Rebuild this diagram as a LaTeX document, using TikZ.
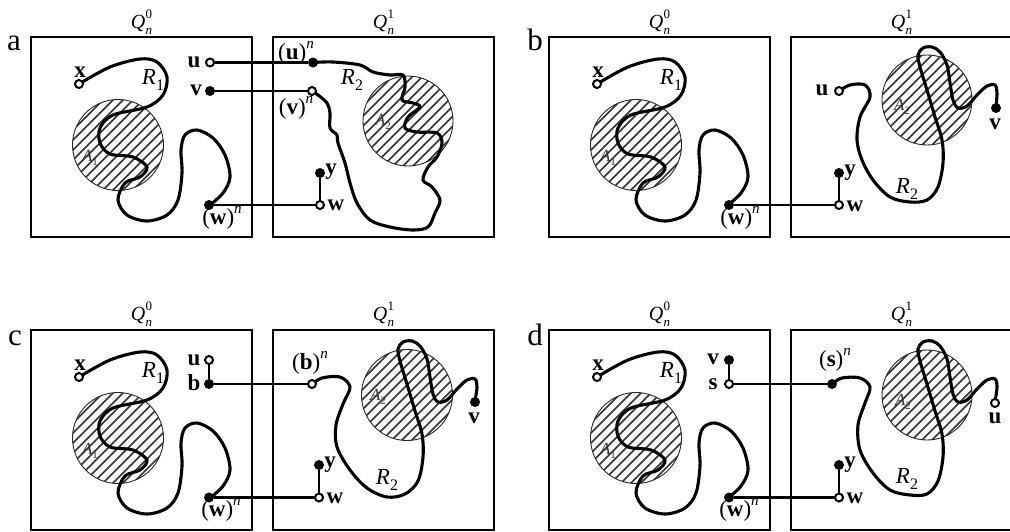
\documentclass[tikz,border=0pt]{standalone}
\usepackage{fontspec}
\setmainfont{Liberation Serif}
\newcommand\Qn[1]{\textit{Q}\kern0.3pt\rlap{\raisebox{0.5em}{\fontsize{13}{13}\selectfont #1}}\raisebox{-0.3em}{\fontsize{13}{13}\selectfont\textit{n}}}
\newcommand\Vn[1]{(\textbf{#1})\raisebox{0.5em}{\fontsize{15}{15}\selectfont\textit{n}}}
\newcommand\Rsub[1]{\textit{R}\raisebox{-0.25em}{\fontsize{16}{16}\selectfont #1}}
\newcommand\Asub[1]{\textit{A}\raisebox{-0.25em}{\fontsize{11}{11}\selectfont #1}}
\tikzset{
 boxq/.style={draw, line width=1.6pt},
 rte/.style={line width=3.1pt, line cap=round, line join=round},
 conn/.style={line width=2.9pt},
 fdot/.style={circle, fill=black, inner sep=0pt, minimum size=10pt},
 odot/.style={circle, draw=black, line width=2pt, fill=white, inner sep=0pt, minimum size=8pt},
 vlab/.style={inner sep=0pt, font=\fontsize{23}{26}\selectfont\bfseries},
 nlab/.style={inner sep=0pt, font=\fontsize{23}{26}\selectfont},
 alab/.style={inner sep=0pt, text=black!80, font=\fontsize{17}{20}\selectfont},
 qlab/.style={inner sep=0pt, font=\fontsize{20}{23}\selectfont},
 plab/.style={inner sep=0pt, anchor=base, font=\fontsize{31}{33}\selectfont},
 hatch/.style={line width=1.7pt, draw=black!80},
 disk/.style={draw=black!85, line width=0.9pt},
}
\newcommand\hdisk[3]{%
 \begin{scope}
 \clip (#1,#2) circle[radius=#3pt];
 \foreach \t in {0,...,16} {\draw[hatch] (#1-80+10*\t-70,#2+70) -- (#1-80+10*\t+70,#2-70);}
 \end{scope}
 \draw[disk] (#1,#2) circle[radius=#3pt];}
\newcommand\leftcurve{%
 \hdisk{87}{108}{45.5}
 \draw[rte] plot[smooth,tension=0.55] coordinates {(48,47) (79,30) (109,22) (126,25) (136,40) (132,58) (116,70) (82,78) (69,91) (69,106) (79,117) (102,120) (116,130) (109,140) (94,146) (87,163) (96,178) (116,184) (136,178) (147,163) (151,136) (150,113) (154,98) (166,93) (182,101) (194,118) (199,140) (192,156) (179,168)};
 \node[vlab] at (49,35) {x};
 \node[nlab] at (122,43) {\Rsub{1}};
 \node[alab] at (59,121) {\Asub{1}};}
\begin{document}
\begin{tikzpicture}[x=1pt,y=-1pt]
\useasboundingbox (0,0) rectangle (1010,531);
% panel letters and titles
\node[plab] (la) at (14,50) {a};
\node[plab] (lb) at (535,50) {b};
\node[plab] (lc) at (15,345) {c};
\node[plab] (ld) at (535,345) {d};
\node[qlab] (qa0) at (141.5,22) {\Qn{0}};
\node[qlab] (qa1) at (383.5,22) {\Qn{1}};
\node[qlab] (qb0) at (659.5,22) {\Qn{0}};
\node[qlab] (qb1) at (901.5,22) {\Qn{1}};
\node[qlab] (qc0) at (141.5,314) {\Qn{0}};
\node[qlab] (qc1) at (383.5,314) {\Qn{1}};
\node[qlab] (qd0) at (659.5,314) {\Qn{0}};
\node[qlab] (qd1) at (901.5,314) {\Qn{1}};
% ================= panel a
\begin{scope}[shift={(31,37)}]
 \draw[boxq] (0,0) rectangle (221,200);
 \leftcurve
 \node[odot] (ax) at (48,47) {};
 \node[odot] (au) at (179,25.5) {};
 \node[vlab] at (163,25) {u};
 \node[fdot] (av) at (179,54) {};
 \node[vlab] at (165,53) {v};
 \node[fdot] (awn) at (178,168) {};
 \node[nlab] at (191,181) {\Vn{w}};
\end{scope}
\begin{scope}[shift={(273,37)}]
 \draw[boxq] (0,0) rectangle (221,200);
 \hdisk{135}{84}{45}
 \draw[rte] plot[smooth,tension=0.55] coordinates {(40,25.5) (60,25) (87,28) (100,35) (117,38) (130,38) (132,50) (129,63) (140,66) (147,70) (135,80) (132,91) (144,95) (164,96) (169,106) (164,120) (155,130) (150,143) (159,150) (167,163) (162,176) (155,190) (140,193) (117,190) (97,183) (84,166) (77,146) (72,126) (65,106) (64,98) (57,91) (57,76) (54,66) (45,58) (39,54)};
 \node[fdot] (aun) at (40,25.5) {};
 \node[nlab] at (23,16) {\Vn{u}};
 \node[odot] (avn) at (39,54) {};
 \node[nlab] at (23,71) {\Vn{v}};
 \node[nlab] at (79,43) {\Rsub{2}};
 \node[alab] at (110,85) {\Asub{2}};
 \node[fdot] (ay) at (47,136) {};
 \node[vlab] at (58,135) {y};
 \node[odot] (aw) at (47,168) {};
 \node[vlab] at (63,168) {w};
\end{scope}
\draw[conn] (au) -- (aun);
\draw[conn] (av) -- (avn);
\draw[conn] (awn) -- (aw);
\draw[conn] (ay) -- (aw);
% ================= panel b
\begin{scope}[shift={(549,37)}]
 \draw[boxq] (0,0) rectangle (221,200);
 \leftcurve
 \node[odot] (bx) at (48,47) {};
 \node[fdot] (bwn) at (180,168) {};
 \node[nlab] at (191,181) {\Vn{w}};
\end{scope}
\begin{scope}[shift={(791,37)}]
 \draw[boxq] (0,0) rectangle (221,200);
 \hdisk{136}{63}{45}
 \draw[rte] plot[smooth,tension=0.55] coordinates {(48,54) (59,48) (74,48) (79,60) (69,80) (66,103) (71,123) (82,143) (99,160) (119,165) (136,163) (147,150) (152,126) (151,103) (144,80) (136,53) (129,30) (127,18) (132,11) (141,10) (149,15) (156,28) (159,46) (162,63) (167,71) (176,69) (186,58) (196,49) (204,48) (206,56) (205,70)};
 \node[odot] (bu) at (48,54) {};
 \node[vlab] at (31,53) {u};
 \node[fdot] (bv) at (205,71) {};
 \node[vlab] at (204,87) {v};
 \node[alab] at (111,70) {\Asub{2}};
 \node[nlab] at (116,152) {\Rsub{2}};
 \node[fdot] (by) at (48,136) {};
 \node[vlab] at (59,136) {y};
 \node[odot] (bw) at (48,168) {};
 \node[vlab] at (64,169) {w};
\end{scope}
\draw[conn] (bwn) -- (bw);
\draw[conn] (by) -- (bw);
% ================= panel c
\begin{scope}[shift={(31,330)}]
 \draw[boxq] (0,0) rectangle (221,200);
 \leftcurve
 \node[odot] (cx) at (48,47) {};
 \node[odot] (cu) at (178,30) {};
 \node[vlab] at (163,30) {u};
 \node[fdot] (cb) at (178,54) {};
 \node[vlab] at (163,53) {b};
 \node[fdot] (cwn) at (178,167.5) {};
 \node[nlab] at (190,180) {\Vn{w}};
\end{scope}
\begin{scope}[shift={(273,330)}]
 \draw[boxq] (0,0) rectangle (221,200);
 \hdisk{134}{65}{45.5}
 \draw[rte] plot[smooth,tension=0.55] coordinates {(39,54) (49,48) (67,47) (77,57) (70,74) (63,95) (64,117) (77,140) (94,158) (114,167) (132,164) (145,151) (150,127) (149,104) (142,81) (134,54) (127,31) (125,19) (130,12) (139,11) (147,16) (154,29) (157,47) (160,64) (165,72) (174,70) (184,59) (194,50) (202,49) (204,57) (202,71)};
 \node[odot] (cbn) at (39,54) {};
 \node[nlab] at (37,33) {\Vn{b}};
 \node[fdot] (cv) at (202,72) {};
 \node[vlab] at (201,88) {v};
 \node[alab] at (105,67) {\Asub{2}};
 \node[nlab] at (114,150) {\Rsub{2}};
 \node[fdot] (cy) at (46,135) {};
 \node[vlab] at (57,135) {y};
 \node[odot] (cw) at (46,167.5) {};
 \node[vlab] at (62,168) {w};
\end{scope}
\draw[conn] (cu) -- (cb);
\draw[conn] (cb) -- (cbn);
\draw[conn] (cwn) -- (cw);
\draw[conn] (cy) -- (cw);
% ================= panel d
\begin{scope}[shift={(549,330)}]
 \draw[boxq] (0,0) rectangle (221,200);
 \leftcurve
 \node[odot] (dx) at (48,47) {};
 \node[fdot] (dv) at (180,30) {};
 \node[vlab] at (164,29) {v};
 \node[odot] (ds) at (180,54) {};
 \node[vlab] at (164,54) {s};
 \node[fdot] (dwn) at (180,167.5) {};
 \node[nlab] at (190,180) {\Vn{w}};
\end{scope}
\begin{scope}[shift={(791,330)}]
 \draw[boxq] (0,0) rectangle (221,200);
 \hdisk{136}{65}{45}
 \draw[rte] plot[smooth,tension=0.55] coordinates {(41,54) (51,48) (69,48) (79,57) (74,73) (67,95) (69,120) (82,143) (99,160) (119,165) (136,164) (147,151) (152,127) (151,104) (144,81) (136,54) (129,31) (127,19) (132,12) (141,11) (149,16) (156,29) (159,47) (162,64) (167,72) (176,70) (186,59) (196,50) (204,49) (206,57) (204,72)};
 \node[fdot] (dsn) at (41,54) {};
 \node[nlab] at (44,30) {\Vn{s}};
 \node[odot] (du) at (204,73) {};
 \node[vlab] at (204,88) {u};
 \node[alab] at (112,72) {\Asub{2}};
 \node[nlab] at (116,149) {\Rsub{2}};
 \node[fdot] (dy) at (48,135) {};
 \node[vlab] at (59,135) {y};
 \node[odot] (dw) at (48,167.5) {};
 \node[vlab] at (64,168) {w};
\end{scope}
\draw[conn] (dv) -- (ds);
\draw[conn] (ds) -- (dsn);
\draw[conn] (dwn) -- (dw);
\draw[conn] (dy) -- (dw);
\end{tikzpicture}
\end{document}
